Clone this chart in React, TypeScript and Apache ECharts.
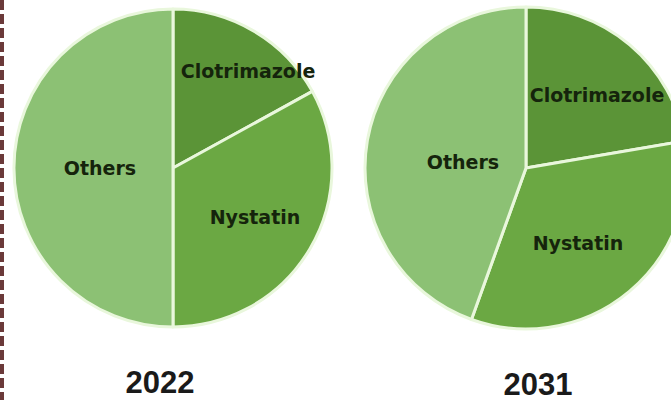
import React, { useEffect, useRef } from "react";
import * as echarts from "echarts";

const categories = ["Clotrimazole", "Nystatin", "Others"];
const values2022 = [17, 33, 50];
const values2031 = [22.3, 33.2, 44.5];
const years = ["2022", "2031"];
const sliceColors = ["#5b9437", "#6ba843", "#8cc174"];

// label anchor points (pixel), per pie, per slice
const labelPos = [
  [[248, 71], [255, 217], [100, 168]],
  [[597, 95], [578, 243], [463, 162]],
];

export default function App() {
  const ref = useRef<HTMLDivElement>(null);
  useEffect(() => {
    document.body.style.margin = "0";
    const chart = echarts.init(ref.current!, null, { renderer: "svg" });
    const mk = (vals: number[], idx: number, center: number[], radius: number) => ({
      type: "pie",
      center,
      radius,
      startAngle: 90,
      clockwise: true,
      silent: true,
      data: categories.map((c, i) => ({
        name: c,
        value: vals[i],
        itemStyle: { color: sliceColors[i] },
      })),
      itemStyle: { borderColor: "#e9f7dc", borderWidth: 3 },
      label: {
        show: true,
        position: "inside",
        formatter: "{b}",
        fontFamily: "DejaVu Sans",
        fontWeight: "bold",
        fontSize: 19,
        color: "#15240c",
      },
      labelLine: { show: false },
      labelLayout: (p: any) => ({
        x: labelPos[idx][p.dataIndex][0],
        y: labelPos[idx][p.dataIndex][1],
        align: "center",
        verticalAlign: "middle",
      }),
    });
    chart.setOption({
      animation: false,
      backgroundColor: "#ffffff",
      series: [
        mk(values2022, 0, [173, 168], 159),
        mk(values2031, 1, [526, 168], 161),
      ],
      graphic: [
        {
          type: "line",
          shape: { x1: 2, y1: 0, x2: 2, y2: 400 },
          style: { stroke: "#6b3a3a", lineWidth: 4, lineDash: [10, 4] },
        },
        {
          type: "text",
          x: 160,
          y: 382,
          style: {
            text: years[0],
            font: "bold 31px 'Liberation Sans', Arial, sans-serif",
            fill: "#1a1a1a",
            align: "center",
            verticalAlign: "middle",
          },
        },
        {
          type: "text",
          x: 538,
          y: 384,
          style: {
            text: years[1],
            font: "bold 31px 'Liberation Sans', Arial, sans-serif",
            fill: "#1a1a1a",
            align: "center",
            verticalAlign: "middle",
          },
        },
      ],
    });
    return () => chart.dispose();
  }, []);
  return <div ref={ref} style={{ width: 671, height: 400 }} />;
}
